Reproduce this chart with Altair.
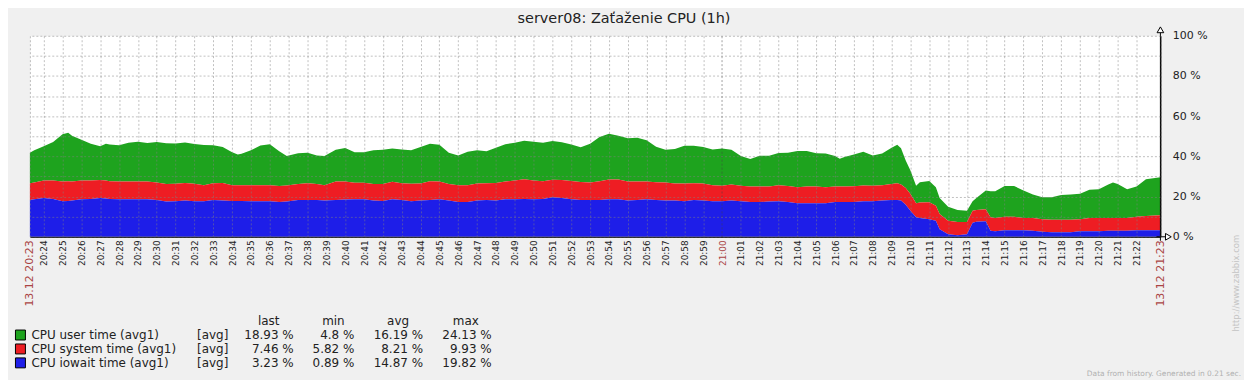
import altair as alt
import pandas as pd

# ---------------- data ----------------
times = [
    "20:23:16", "20:23:30", "20:24:00", "20:24:30", "20:25:00", "20:25:18", "20:25:30", "20:26:00",
    "20:26:30", "20:27:00", "20:27:18", "20:27:30", "20:28:00", "20:28:30", "20:29:00", "20:29:30",
    "20:30:00", "20:30:30", "20:31:00", "20:31:30", "20:32:00", "20:32:30", "20:33:00", "20:33:30",
    "20:34:00", "20:34:18", "20:34:30", "20:35:00", "20:35:30", "20:36:00", "20:36:30", "20:36:54",
    "20:37:30", "20:38:00", "20:38:30", "20:38:54", "20:39:30", "20:40:00", "20:40:30", "20:41:00",
    "20:41:30", "20:42:00", "20:42:30", "20:43:00", "20:43:30", "20:44:00", "20:44:30", "20:45:00",
    "20:45:30", "20:46:00", "20:46:30", "20:47:00", "20:47:30", "20:48:00", "20:48:30", "20:49:00",
    "20:49:30", "20:50:00", "20:50:30", "20:51:00", "20:51:30", "20:52:00", "20:52:30", "20:53:00",
    "20:53:30", "20:54:00", "20:54:30", "20:55:00", "20:55:30", "20:56:00", "20:56:30", "20:57:00",
    "20:57:30", "20:58:00", "20:58:30", "20:59:00", "20:59:30", "21:00:00", "21:00:30", "21:01:00",
    "21:01:30", "21:02:00", "21:02:30", "21:03:00", "21:03:30", "21:04:00", "21:04:30", "21:05:00",
    "21:05:30", "21:06:00", "21:06:15", "21:06:30", "21:07:00", "21:07:30", "21:08:00", "21:08:30",
    "21:09:00", "21:09:18", "21:09:30", "21:09:45", "21:10:00", "21:10:18", "21:10:30", "21:11:00",
    "21:11:21", "21:11:33", "21:12:00", "21:12:30", "21:13:00", "21:13:18", "21:13:30", "21:14:00",
    "21:14:15", "21:14:30", "21:15:00", "21:15:30", "21:16:00", "21:16:30", "21:17:00", "21:17:30",
    "21:18:00", "21:18:30", "21:19:00", "21:19:30", "21:20:00", "21:20:30", "21:20:45", "21:21:00",
    "21:21:30", "21:22:00", "21:22:30", "21:23:16",
]
user = [
    15.2, 16.0, 17.0, 19.2, 23.5, 24.2, 22.8, 20.3,
    18.3, 16.7, 18.3, 18.3, 18.0, 19.3, 19.8, 19.2,
    20.2, 20.2, 20.0, 20.2, 19.7, 20.0, 19.0, 18.0,
    16.5, 15.3, 15.7, 17.3, 19.7, 20.3, 17.3, 14.7,
    15.3, 15.2, 14.2, 14.5, 15.8, 16.7, 15.2, 15.2,
    16.7, 17.0, 16.5, 16.8, 16.7, 18.2, 18.7, 18.3,
    15.5, 14.8, 16.7, 16.5, 16.0, 17.5, 18.5, 18.8,
    19.2, 19.3, 19.2, 19.3, 18.7, 18.2, 17.3, 19.3,
    22.0, 22.8, 21.8, 21.5, 21.8, 20.5, 17.7, 16.3,
    17.2, 18.8, 18.7, 18.2, 17.7, 18.5, 17.3, 14.8,
    13.7, 15.3, 15.3, 16.0, 16.5, 18.0, 17.7, 16.5,
    16.7, 15.2, 13.8, 14.7, 15.8, 16.8, 15.0, 15.7,
    18.0, 19.2, 18.0, 13.7, 11.7, 8.7, 10.0, 10.5,
    9.2, 8.0, 7.0, 6.0, 5.7, 4.7, 6.0, 9.3,
    13.0, 13.2, 15.3, 15.3, 13.7, 11.7, 11.0, 11.2,
    12.3, 12.5, 12.7, 14.0, 14.3, 16.7, 17.7, 17.0,
    14.3, 15.0, 18.3, 18.9,
]
system = [
    8.3, 8.3, 8.7, 9.2, 9.8, 9.8, 9.5, 9.3,
    9.2, 9.0, 9.0, 8.8, 8.8, 8.8, 8.8, 8.8,
    8.7, 8.8, 8.7, 8.7, 8.7, 8.0, 8.3, 8.7,
    7.8, 7.8, 7.8, 8.0, 8.0, 8.0, 8.0, 8.0,
    8.0, 8.3, 8.0, 7.7, 9.2, 9.0, 8.2, 8.2,
    8.3, 8.5, 8.7, 8.3, 8.7, 8.5, 9.3, 8.8,
    8.3, 8.3, 8.3, 8.5, 8.3, 8.8, 8.8, 9.3,
    9.8, 9.3, 8.8, 8.7, 9.0, 9.0, 9.0, 8.7,
    9.3, 9.8, 9.8, 9.5, 9.2, 8.8, 8.8, 9.0,
    8.5, 8.8, 8.3, 8.5, 8.0, 7.7, 8.0, 7.7,
    7.7, 7.7, 7.5, 8.0, 8.0, 8.0, 8.3, 8.3,
    8.0, 7.7, 7.7, 7.7, 7.8, 7.8, 7.7, 7.7,
    8.0, 8.3, 8.0, 8.3, 8.3, 7.0, 7.8, 8.5,
    7.5, 7.5, 6.7, 6.5, 6.0, 6.0, 5.8, 6.0,
    6.7, 6.7, 6.7, 6.7, 6.0, 6.3, 6.2, 6.3,
    6.3, 6.3, 6.0, 6.7, 6.7, 6.3, 6.3, 6.3,
    6.3, 6.7, 7.0, 7.5,
]
iowait = [
    18.3, 18.7, 19.3, 18.8, 17.7, 17.8, 18.0, 18.7,
    18.8, 19.3, 19.0, 18.8, 18.7, 18.7, 18.7, 18.7,
    18.3, 17.5, 17.7, 18.0, 17.7, 17.7, 18.3, 18.0,
    17.8, 17.8, 17.8, 17.7, 17.7, 17.7, 17.3, 17.5,
    18.3, 18.3, 18.3, 18.0, 18.3, 18.5, 18.7, 18.7,
    18.0, 17.8, 18.7, 18.3, 17.7, 18.0, 18.3, 18.7,
    18.0, 17.3, 17.3, 18.0, 18.3, 18.0, 18.7, 18.7,
    18.8, 18.7, 18.8, 19.7, 19.3, 18.7, 18.3, 18.3,
    18.3, 18.7, 18.7, 18.0, 18.3, 18.7, 18.3, 18.0,
    18.0, 17.7, 18.3, 18.0, 17.7, 17.7, 18.0, 17.7,
    17.3, 17.3, 17.5, 17.7, 17.3, 16.7, 16.7, 16.7,
    16.7, 17.3, 17.3, 17.3, 17.3, 17.7, 17.7, 18.0,
    18.3, 18.3, 18.0, 16.0, 13.0, 9.7, 9.3, 8.7,
    8.0, 3.8, 1.3, 0.8, 1.3, 7.0, 7.5, 7.7,
    3.0, 2.7, 3.3, 3.3, 3.3, 3.0, 2.5, 2.2,
    2.2, 2.2, 2.7, 2.7, 2.7, 3.0, 3.0, 3.0,
    3.0, 3.3, 3.3, 3.2,
]

series_names = ["CPU user time (avg1)", "CPU system time (avg1)", "CPU iowait time (avg1)"]
series_colors = ["#1ea31e", "#ee1d23", "#1e1ee8"]
legend_func = ["[avg]", "[avg]", "[avg]"]
legend_last = ["18.93 %", "7.46 %", "3.23 %"]
legend_min = ["4.8 %", "5.82 %", "0.89 %"]
legend_avg = ["16.19 %", "8.21 %", "14.87 %"]
legend_max = ["24.13 %", "9.93 %", "19.82 %"]
legend_headers = ["last", "min", "avg", "max"]
y_ticks = list(range(0, 101, 10))
title_text = "server08: Zaťaženie CPU (1h)"
day = "2012-12-13"
day_label = "13.12"
range_start = "20:23:16"
range_end = "21:23:16"
minute_ticks = ["%02d:%02d" % divmod(m, 60) for m in range(20 * 60 + 24, 21 * 60 + 23)]


def ms(hms):
    if len(hms) == 5:
        hms = hms + ":00"
    return int(pd.Timestamp(f"{day}T{hms}", tz="UTC").value // 10**6)


rows = []
for name, vals, order in [(series_names[0], user, 2), (series_names[1], system, 1), (series_names[2], iowait, 0)]:
    for t, v in zip(times, vals):
        rows.append({"t": f"{day}T{t}Z", "v": v, "s": name, "o": order})
df = pd.DataFrame(rows)

start_ms = ms(range_start)
end_ms = ms(range_end)
hour_ms = ms("21:00")
tick_values = [start_ms] + [ms(m) for m in minute_ticks] + [end_ms]

edge_test = f"time(datum.value) == {start_ms} || time(datum.value) == {end_ms}"
red_test = edge_test + f" || time(datum.value) == {hour_ms}"

FONT = "DejaVu Sans"
TXT = "#222222"

x_axis = alt.Axis(
    values=tick_values,
    labelExpr=f"({edge_test}) ? '{day_label} ' + utcFormat(datum.value, '%H:%M') : utcFormat(datum.value, '%H:%M')",
    labelAngle=270,
    labelAlign="right",
    labelBaseline="middle",
    labelColor={"condition": {"test": red_test, "value": "#aa4444"}, "value": TXT},
    labelFontSize={"condition": {"test": edge_test, "value": 11}, "value": 9},
    labelFont=FONT,
    labelPadding=3,
    labelOverlap=False,
    labelFlush=False,
    ticks=False,
    domainColor="#000000",
    grid=True,
    gridColor={"condition": {"test": f"time(datum.value) == {hour_ms}", "value": "#404040"}, "value": "#808080"},
    gridOpacity=0.5,
    gridDash=[2, 2],
    title=None,
    zindex=1,
)
y_axis = alt.Axis(
    orient="right",
    values=y_ticks,
    labelExpr="datum.value % 20 == 0 ? datum.value + ' %' : ''",
    labelFont=FONT,
    labelFontSize=11,
    labelColor=TXT,
    labelPadding=12,
    labelFlush=False,
    labelBaseline="middle",
    ticks=False,
    domainColor="#000000",
    grid=True,
    gridColor="#808080",
    gridOpacity=0.5,
    gridDash=[2, 2],
    title=None,
    zindex=1,
)

area = alt.Chart(df).mark_area(interpolate="linear").encode(
    x=alt.X("t:T", scale=alt.Scale(type="utc", domain=[start_ms, end_ms]), axis=x_axis),
    y=alt.Y("v:Q", stack="zero", scale=alt.Scale(domain=[0, 100]), axis=y_axis),
    color=alt.Color("s:N", scale=alt.Scale(domain=series_names, range=series_colors), legend=None),
    order=alt.Order("o:Q"),
)

one = pd.DataFrame({"k": [0]})


def txt(s, x, y, **kw):
    base = dict(font=FONT, fontSize=12, color=TXT, baseline="middle", align="left")
    base.update(kw)
    return alt.Chart(one).mark_text(text=s, **base).encode(x=alt.value(x), y=alt.value(y))


layers = [area]
# title
layers.append(txt(title_text, 597, -17, fontSize=14.5, align="center"))
# axis arrows / extensions
layers.append(alt.Chart(one).mark_rule(color="black").encode(x=alt.value(1136), y=alt.value(-8), y2=alt.value(206)))
layers.append(alt.Chart(one).mark_rule(color="black").encode(x=alt.value(1132), x2=alt.value(1141), y=alt.value(202)))
layers.append(alt.Chart(one).mark_point(shape="triangle-up", filled=True, fill="white", stroke="black",
                                        strokeWidth=1, size=45, opacity=1).encode(x=alt.value(1136), y=alt.value(-6)))
layers.append(alt.Chart(one).mark_point(shape="triangle-right", filled=True, fill="white", stroke="black",
                                        strokeWidth=1, size=45, opacity=1).encode(x=alt.value(1144), y=alt.value(202)))
# legend table
header_x = [240, 305, 370, 438]
for h, hx in zip(legend_headers, header_x):
    layers.append(txt(h, hx, 286.5, align="center"))
col_right = [265, 326, 395, 464]
for i in range(3):
    ry = 300.7 + 14 * i
    layers.append(alt.Chart(one).mark_rect(fill=series_colors[i], stroke="black", strokeWidth=1).encode(
        x=alt.value(-14.5), x2=alt.value(-4.5), y=alt.value(ry - 5), y2=alt.value(ry + 5)))
    layers.append(txt(series_names[i], 1.5, ry))
    layers.append(txt(legend_func[i], 168, ry))
    for col, cx in zip([legend_last, legend_min, legend_avg, legend_max], col_right):
        layers.append(txt(col[i], cx, ry, align="right"))
# watermark and footer
layers.append(txt("http://www.zabbix.com", 1212, 200, fontSize=8.5, angle=270, align="right", color="#c4c4c4"))
layers.append(txt("Data from history. Generated in 0.21 sec.", 1217, 340, fontSize=7.5, align="right", color="#b0b0b0"))

chart = alt.layer(*layers).properties(
    width=1136,
    height=202,
    padding={"left": 22, "top": 27, "right": 84, "bottom": 143},
    autosize=alt.AutoSizeParams(type="none"),
    background="#f0f0f0",
).configure(
    font=FONT,
    view=alt.ViewConfig(stroke="transparent", fill="white"),
)

chart.save("out.html", embed_options={"renderer": "svg", "actions": False})
